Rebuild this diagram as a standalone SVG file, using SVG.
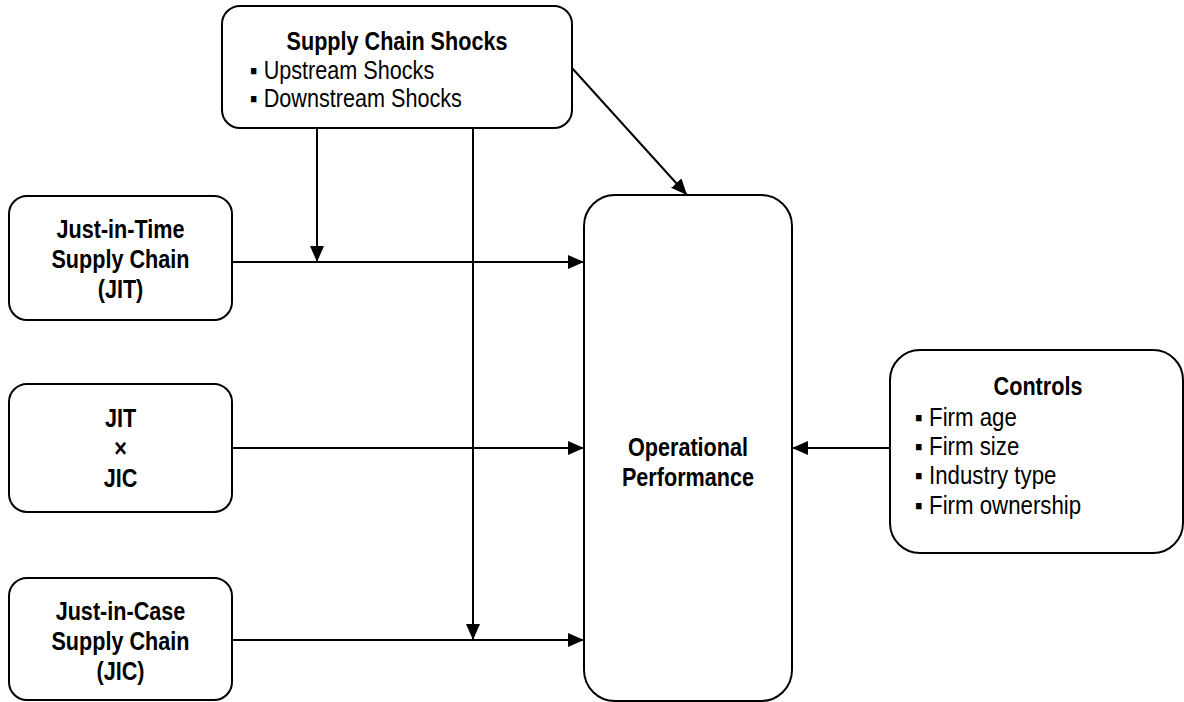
<svg xmlns="http://www.w3.org/2000/svg" width="1184" height="702" viewBox="0 0 1184 702">
<defs>
<marker id="arr" markerUnits="userSpaceOnUse" markerWidth="16" markerHeight="14" refX="16" refY="7" orient="auto">
<path d="M0,0 L16,7 L0,14 z" fill="#000"/>
</marker>
<style>
.box{fill:#fff;stroke:#000;stroke-width:2}
.t{font-family:"Liberation Sans",Arial,sans-serif;font-size:25px;fill:#000}
.b{font-weight:bold;text-anchor:middle}
.c{stroke:#000;stroke-width:2;fill:none;marker-end:url(#arr)}
</style>
</defs>
<rect width="1184" height="702" fill="#fff"/>
<g id="connectors">
<line class="c" x1="317" y1="128" x2="317" y2="262"/>
<line class="c" x1="473" y1="128" x2="473" y2="640"/>
<line class="c" x1="572" y1="68" x2="687" y2="195"/>
<line class="c" x1="232" y1="262" x2="584" y2="262"/>
<line class="c" x1="232" y1="448" x2="584" y2="448"/>
<line class="c" x1="232" y1="640" x2="584" y2="640"/>
<line class="c" x1="890" y1="448" x2="792" y2="448"/>
</g>
<g id="shocks">
<rect class="box" x="222" y="6" width="350" height="122" rx="18"/>
<text class="t b" transform="translate(397,50) scale(0.865,1)">Supply Chain Shocks</text>
<text class="t" transform="translate(250,79) scale(0.865,1)">▪ Upstream Shocks</text>
<text class="t" transform="translate(250,107) scale(0.865,1)">▪ Downstream Shocks</text>
</g>
<g id="jit">
<rect class="box" x="9" y="196" width="223" height="124" rx="18"/>
<text class="t b" transform="translate(120.5,238) scale(0.865,1)">Just-in-Time</text>
<text class="t b" transform="translate(120.5,268) scale(0.865,1)">Supply Chain</text>
<text class="t b" transform="translate(120.5,298) scale(0.865,1)">(JIT)</text>
</g>
<g id="jitxjic">
<rect class="box" x="9" y="384" width="223" height="128" rx="18"/>
<text class="t b" transform="translate(120.5,427) scale(0.865,1)">JIT</text>
<text class="t b" transform="translate(120.5,457) scale(0.865,1)">×</text>
<text class="t b" transform="translate(120.5,487) scale(0.865,1)">JIC</text>
</g>
<g id="jic">
<rect class="box" x="9" y="578" width="223" height="122" rx="18"/>
<text class="t b" transform="translate(120.5,620) scale(0.865,1)">Just-in-Case</text>
<text class="t b" transform="translate(120.5,650) scale(0.865,1)">Supply Chain</text>
<text class="t b" transform="translate(120.5,680) scale(0.865,1)">(JIC)</text>
</g>
<g id="performance">
<rect class="box" x="584" y="195" width="208" height="506" rx="31"/>
<text class="t b" transform="translate(688,456) scale(0.865,1)">Operational</text>
<text class="t b" transform="translate(688,486) scale(0.865,1)">Performance</text>
</g>
<g id="controls">
<rect class="box" x="890" y="350" width="293" height="203" rx="30"/>
<text class="t b" transform="translate(1038,395) scale(0.865,1)">Controls</text>
<text class="t" transform="translate(915,426) scale(0.89,1)">▪ Firm age</text>
<text class="t" transform="translate(915,455) scale(0.89,1)">▪ Firm size</text>
<text class="t" transform="translate(915,484) scale(0.89,1)">▪ Industry type</text>
<text class="t" transform="translate(915,514) scale(0.89,1)">▪ Firm ownership</text>
</g>
</svg>
